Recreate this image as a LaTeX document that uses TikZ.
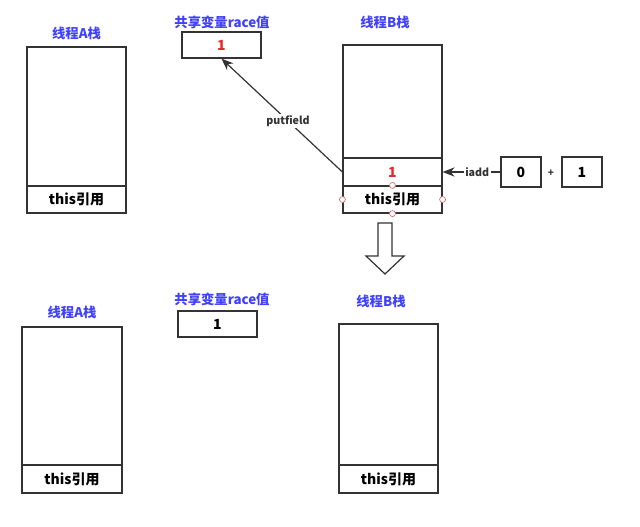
\documentclass[tikz,border=0pt]{standalone}
\usepackage{fontspec}
\setmainfont{Noto Sans CJK SC}
\usetikzlibrary{arrows.meta, positioning}
\definecolor{ln}{RGB}{51,51,51}
\definecolor{tit}{RGB}{64,64,255}
\definecolor{val}{RGB}{235,40,40}
\definecolor{hdl}{RGB}{210,110,110}
\tikzset{
  % box sizes given in pixels of the reference
  cell/.style 2 args={rectangle, draw=ln, line width=0.9pt, fill=white, inner sep=0pt,
              minimum width=#1*0.75pt, minimum height=#2*0.75pt, font=\bfseries\fontsize{10.5}{12}\selectfont},
  ttl/.style={font=\bfseries\fontsize{10}{12}\selectfont, text=tit},
  ar/.style={-{Stealth[length=9pt, width=7pt]}, line width=0.9pt, draw=ln},
  lbl/.style={font=\bfseries\fontsize{8}{9}\selectfont, text=ln, fill=white, inner sep=1pt},
  % selection handles
  hdlc/.style={circle, draw=hdl, fill=white, line width=0.5pt, inner sep=0pt, minimum size=4.5pt}
}
\begin{document}
\begin{tikzpicture}[x=0.75pt, y=-0.75pt]
    \useasboundingbox (0,0) rectangle (640,526);

    % before
    \node[cell={99}{139}] (abody) at (76.5,116.5) {};
    \node[cell={99}{27}]  (athis) at (76.5,199.5) {this引用};
    \node[ttl] (atit) at (76.5,33) {线程A栈};

    \node[cell={79}{26}] (sold) at (221.5,45) {\textcolor{val}{1}};
    \node[ttl] (stit) at (222,22) {共享变量race值};

    \node[cell={99}{113}] (bbody) at (392.5,101.5) {};
    \node[cell={99}{28}]  (bval)  at (392.5,172) {\textcolor{val}{1}};
    \node[cell={99}{27}]  (bthis) at (392.5,199.5) {this引用};
    \node[ttl] (btit) at (385,22) {线程B栈};
    \foreach \a in {north,south,east,west}
      \node[hdlc] at (bthis.\a) {};

    \node[cell={40}{30}] (zero) at (521,172) {0};
    \node[font=\bfseries\fontsize{7.5}{9}\selectfont, text=ln] (plus) at (551,173) {+};
    \node[cell={40}{30}] (one) at (582,172) {1};

    \draw[ar] (bval.west) -- node[lbl, pos=0.45] {putfield} (sold.south);
    \draw[ar] (zero.west) -- node[lbl, pos=0.4] {iadd} (bval.east);

    % hollow arrow
    \draw[line width=0.9pt, draw=ln, fill=white, line join=miter]
      (378,223) -- (392,223) -- (392,256) -- (404,256) -- (385,274)
      -- (366,256) -- (378,256) -- cycle;

    % after
    \node[cell={100}{138}] (abody2) at (72,396) {};
    \node[cell={100}{28}]  (athis2) at (72,479) {this引用};
    \node[ttl] (atit2) at (72,312) {线程A栈};

    \node[cell={79}{26}] (snew) at (217.5,324) {1};
    \node[ttl] (stit2) at (222,299) {共享变量race值};

    \node[cell={99}{141}] (bbody2) at (388.5,394.5) {};
    \node[cell={99}{28}]  (bthis2) at (388.5,479) {this引用};
    \node[ttl] (btit2) at (381,301) {线程B栈};
\end{tikzpicture}
\end{document}
